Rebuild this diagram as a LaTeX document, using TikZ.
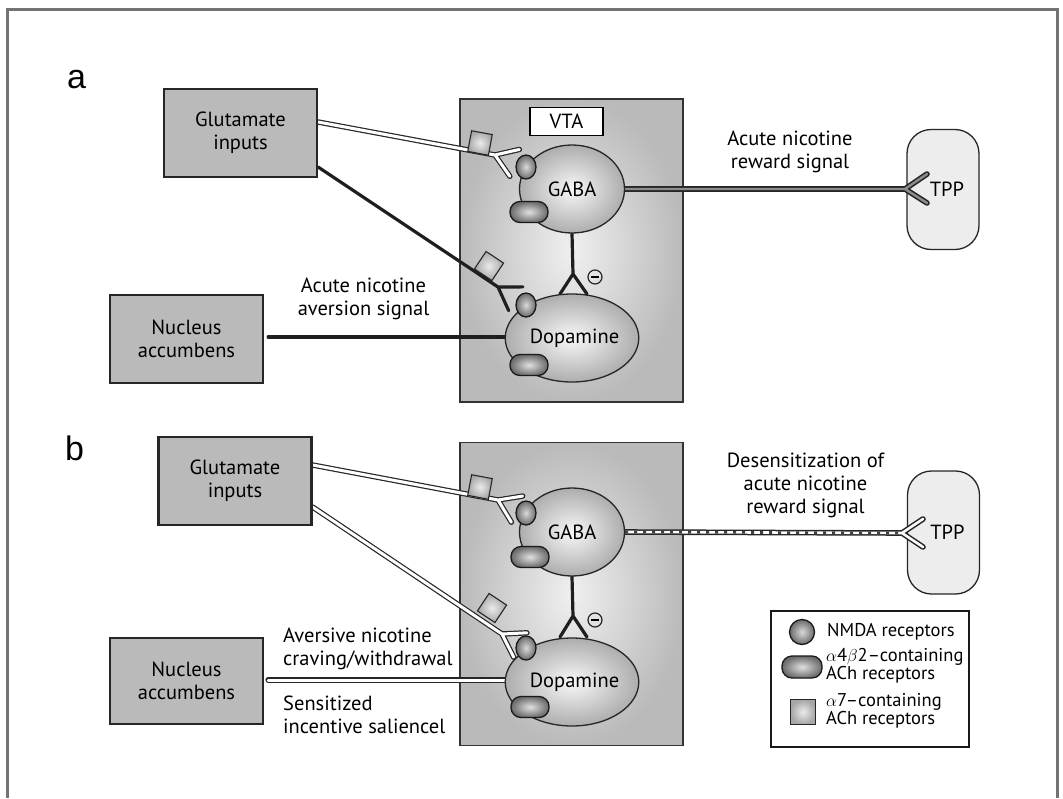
\documentclass[tikz,border=0pt]{standalone}
\usepackage{fontspec}
\setmainfont{PT Sans}
\newfontfamily\panelfont{Liberation Sans}
\usetikzlibrary{shapes.geometric,calc}
\pgfdeclarelayer{back}
\pgfdeclarelayer{wires}
\pgfsetlayers{back,wires,main}
\begin{document}
\begin{tikzpicture}[x=1pt,y=-1pt,
  lbl/.style={font=\fontsize{20.5}{23}\selectfont},
  region/.style={lbl, draw=black!85, line width=2.2pt, fill=black!27, minimum width=153pt,
    minimum height=88pt, inner sep=0pt, align=center},
  vta/.style={draw=black!80, line width=1.3pt, inner color=black!6, outer color=black!27,
    minimum width=223pt, minimum height=303pt, inner sep=0pt},
  vtatag/.style={lbl, draw=black, line width=1.6pt, fill=white, minimum width=73pt,
    minimum height=28pt, inner sep=0pt},
  cell/.style={lbl, ellipse, draw=black!85, line width=1.3pt, inner color=black!3,
    outer color=black!32, minimum width=105pt, minimum height=88pt, inner sep=0pt},
  nmda/.style={ellipse, draw=black!90, line width=1.3pt, inner color=black!15,
    outer color=black!58, minimum width=20pt, minimum height=24pt, inner sep=0pt},
  nach/.style={rectangle, rounded corners=10pt, draw=black!90, line width=1.3pt,
    inner color=black!12, outer color=black!58, minimum width=38pt, minimum height=21pt, inner sep=0pt},
  sqr/.style={rectangle, draw=black!85, line width=1.1pt, inner color=black!8,
    outer color=black!35, minimum size=21pt, inner sep=0pt},
  tpp/.style={lbl, rectangle, rounded corners=24pt, draw=black!85, line width=1.3pt,
    fill=black!7, minimum width=72pt, minimum height=120pt, inner sep=0pt},
  caption/.style={lbl, align=center, inner sep=0pt},
  captionl/.style={lbl, align=left, inner sep=0pt, anchor=west},
  keytext/.style={font=\fontsize{18.5}{17.5}\selectfont, align=left, inner sep=0pt, anchor=west},
  axonw/.style={draw=black!85, line width=1.2pt, double=white, double distance=3pt,
    line cap=round, line join=round},
  axonk/.style={draw=black!88, line width=3.2pt, line cap=round, line join=round},
  rewardline/.style={draw=black!85, line width=1.6pt, double=black!45, double distance=2.4pt,
    line cap=round, line join=round},
  inhib/.style={circle, draw=black!85, line width=1.2pt, minimum size=14pt, inner sep=0pt},
  frame/.style={draw=black!55, line width=3pt},
  panel/.style={font=\panelfont\fontsize{34}{34}\selectfont, inner sep=0pt, anchor=base west}
]
\useasboundingbox (0,0) rectangle (1063,798);

\begin{pgfonlayer}{back}
  \fill[white] (0,0) rectangle (1063,798);
  \draw[frame] (7,798) -- (7,9) -- (1057,9) -- (1057,798);
  % ventral tegmental area, both panels
  \node[vta] (vtaA) at (571.5,250.5) {};
  \node[vta] (vtaB) at (571.5,594) {};
  % target regions
  \node[tpp] (tppA) at (943,189.5) {\hspace*{8pt}TPP};
  \node[tpp, minimum height=123pt] (tppB) at (943.5,532.5) {\hspace*{8pt}TPP};
\end{pgfonlayer}

% panel letters
\node[panel] (pa) at (67,88) {a};
\node[panel] (pb) at (65,460) {b};

% ---------------- panel a ----------------
\node[region] (glA) at (240.5,133) {Glutamate\\inputs};
\node[region] (nucA) at (186.5,339) {Nucleus\\accumbens};
\node[vtatag] (tagA) at (566.5,121.5) {VTA};

\node[cell] (gabaA) at (572,189) {GABA};
\node[cell] (dopA) at (572,338) {\hspace*{5pt}Dopamine};
\node[nmda] (nGA) at (526,167) {};
\node[nach] (aGA) at (529,212) {};
\node[nmda] (nDA) at (526,305) {};
\node[nach] (aDA) at (529,365) {};

\begin{pgfonlayer}{wires}
  \coordinate (fA1) at (495,155);
  \draw[axonw] ($(glA.east)+(0,-11)$) -- (fA1) -- ($(fA1)!25pt!34:(nGA)$)
        (fA1) -- ($(fA1)!26pt!-34:(nGA)$);
  \coordinate (fA2) at (498,287);
  \draw[axonk] ($(glA.east)+(0,34)$) -- (fA2) -- ($(fA2)!25pt!33:(nDA)$)
        (fA2) -- ($(fA2)!26pt!-33:(nDA)$);
  \coordinate (nA) at ($(nucA.east)+(4,-2)$);
  \draw[axonk] (nA) -- (nA -| dopA.west);
  \coordinate (tA) at (905,189);
  \draw[rewardline] (gabaA.east) -- (tA) -- ++(22,-15) (tA) -- ++(22,14);
  \coordinate (iA) at (573,274);
  \draw[axonk] (gabaA.south) -- (iA) -- ++(-13,20) (iA) -- ++(14,20);
\end{pgfonlayer}

\node[sqr, rotate=-10.5] (sA1) at (480,143) {};
\node[sqr, rotate=-33.5] (sA2) at (489,266) {};
\node[inhib] (inhA) at (595,277) {};
\draw[line width=1.5pt] ($(inhA.west)+(3.5,0)$) -- ($(inhA.east)+(-3.5,0)$);

\node[caption] (capA1) at (363.5,299) {Acute nicotine\\aversion signal};
\node[caption] (capA2) at (790,151.5) {Acute nicotine\\reward signal};

% ---------------- panel b ----------------
\node[region] (glB) at (235,481) {Glutamate\\inputs};
\node[region, minimum height=86pt] (nucB) at (186.5,681) {Nucleus\\accumbens};

\node[cell] (gabaB) at (572,532) {GABA};
\node[cell] (dopB) at (572,682) {\hspace*{5pt}Dopamine};
\node[nmda] (nGB) at (526,513) {};
\node[nach] (aGB) at (530,557) {};
\node[nmda] (nDB) at (526,648) {};
\node[nach] (aDB) at (530,707) {};

\begin{pgfonlayer}{wires}
  \coordinate (fB1) at (498,500);
  \draw[axonw] ($(glB.east)+(0,-16)$) -- (fB1) -- ($(fB1)!25pt!34:(nGB)$)
        (fB1) -- ($(fB1)!26pt!-34:(nGB)$);
  \coordinate (fB2) at (502,634);
  \draw[axonw] ($(glB.east)+(0,26)$) -- (fB2) -- ($(fB2)!25pt!33:(nDB)$)
        (fB2) -- ($(fB2)!26pt!-33:(nDB)$);
  \coordinate (nB) at ($(nucB.east)+(4,-1)$);
  \draw[axonw] (nB) -- (nB -| dopB.west);
  \coordinate (tB) at (902,533);
  \draw[axonw, line width=1.5pt, double distance=2.6pt] (gabaB.east) -- (tB) -- ++(21,-14) (tB) -- ++(21,14);
  \draw[black!75, line width=2.6pt, dash pattern=on 3pt off 6pt] (gabaB.east) -- (tB);
  \coordinate (iB) at (573,616);
  \draw[axonk] (gabaB.south) -- (iB) -- ++(-13,21) (iB) -- ++(14,21);
\end{pgfonlayer}

\node[sqr, rotate=-10.7] (sB1) at (480,487) {};
\node[sqr, rotate=-33.6] (sB2) at (492,608) {};
\node[inhib] (inhB) at (595,620) {};
\draw[line width=1.5pt] ($(inhB.west)+(3.5,0)$) -- ($(inhB.east)+(-3.5,0)$);

\node[caption] (capB1) at (805.5,485) {Desensitization of\\acute nicotine\\reward signal};
\node[captionl] (capB2) at (283,648.5) {Aversive nicotine\\craving/withdrawal};
\node[captionl] (capB3) at (283,714.5) {Sensitized\\incentive saliencel};

% ---------------- key ----------------
\node[draw=black!90, line width=2.4pt, fill=white, minimum width=198pt, minimum height=136pt,
  inner sep=0pt] (key) at (870,679) {};
\node[nmda, minimum width=25pt, minimum height=25pt] (kN) at (802,632) {};
\node[nach, minimum width=40pt, minimum height=22pt] (kA) at (802,667) {};
\node[sqr, minimum size=25pt] (kS) at (803,712) {};
\node[keytext] (kNt) at (827,632) {NMDA receptors};
\node[keytext] (kAt) at (826,666) {$\alpha$4$\beta$2–containing\\ACh receptors};
\node[keytext] (kSt) at (826,711) {$\alpha$7–containing\\ACh receptors};
\end{tikzpicture}
\end{document}
